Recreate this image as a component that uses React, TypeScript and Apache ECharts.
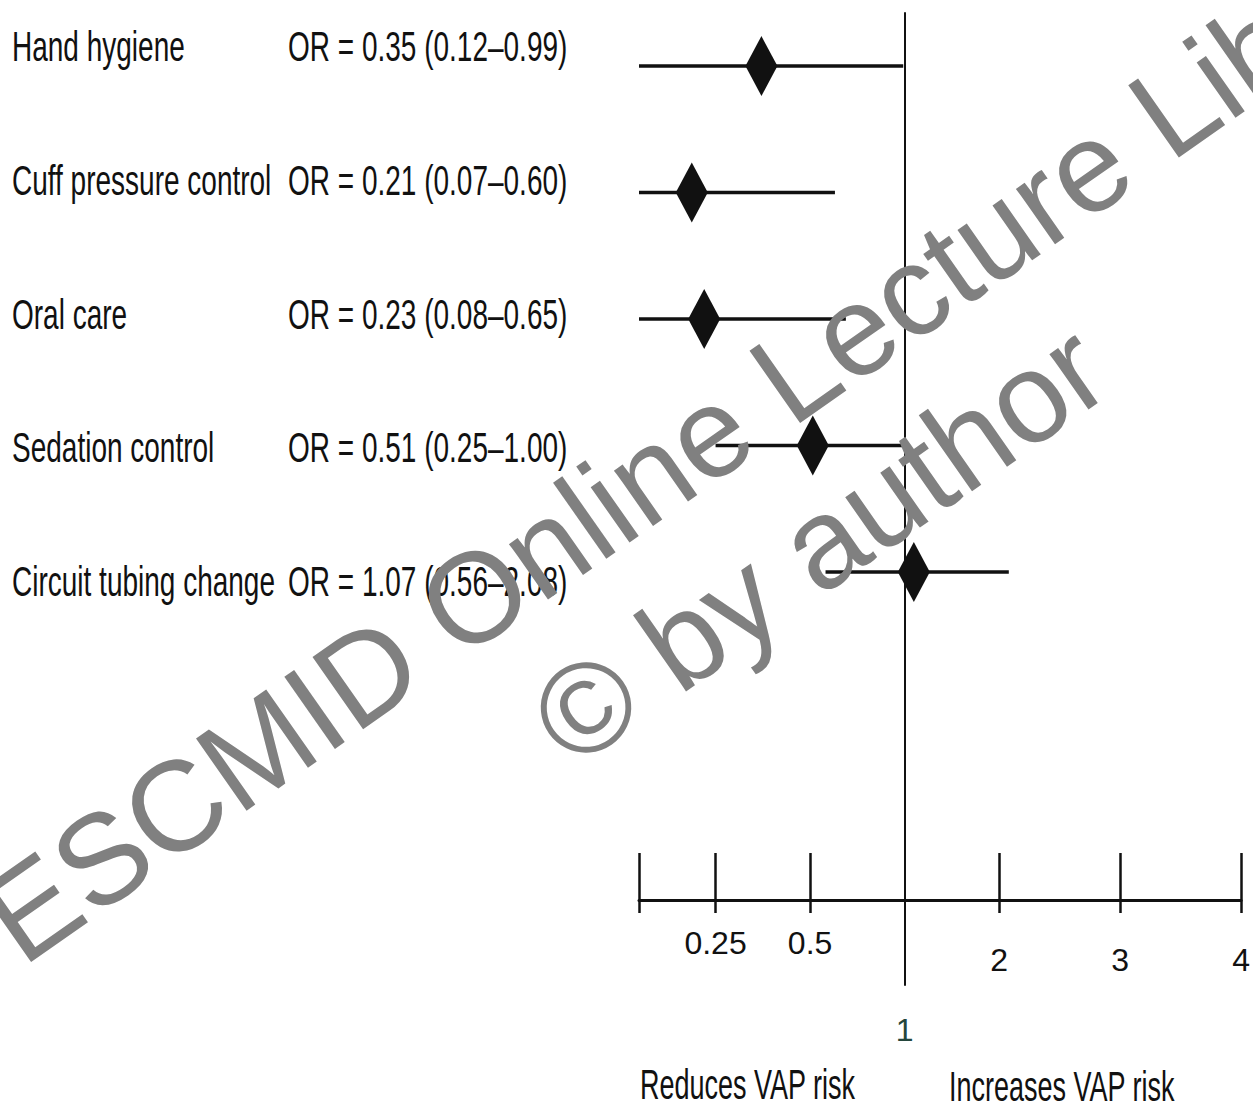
import React, { useEffect, useRef } from 'react';
import * as echarts from 'echarts';

// ---- data ----
const categories = ['Hand hygiene', 'Cuff pressure control', 'Oral care', 'Sedation control', 'Circuit tubing change'];
const oddsRatio = [0.35, 0.21, 0.23, 0.51, 1.07];
const ciLower = [0.12, 0.07, 0.08, 0.25, 0.56];
const ciUpper = [0.99, 0.6, 0.65, 1.0, 2.08];
const tickValues = [0.25, 0.5, 1, 2, 3, 4];
const tickLabels = ['0.25', '0.5', '1', '2', '3', '4'];
const sideLabels = ['Reduces VAP risk', 'Increases VAP risk'];
const watermark = ['ESCMID Online Lecture Library', '\u00A9 by author'];

// axis scale of the printed figure: log2 below 2, stretched linear above 2
const toAxis = (v: number) => (v <= 2 ? Math.log2(v) : 1 + (v - 2) * 1.28);

const X_MIN = -2.81;
const X_MAX = toAxis(4);
// rows (marks) axis and label-column axis
const Y_MIN = -0.42;
const Y_MAX = 7.265;
const YL_MIN = -0.254;
const YL_MAX = 7.013;

const FONT = "'Liberation Sans', Arial, sans-serif";
const INK = '#111111';

const fmt = (v: number) => v.toFixed(2);
const orText = (i: number) => `OR = ${fmt(oddsRatio[i])} (${fmt(ciLower[i])}\u2013${fmt(ciUpper[i])})`;

export default function App() {
  const ref = useRef<HTMLDivElement>(null);

  useEffect(() => {
    document.body.style.margin = '0';
    if (!ref.current) return;
    const chart = echarts.init(ref.current, undefined, { renderer: 'svg' });

    const tickPos = [X_MIN, ...tickValues.filter((v) => v !== 1).map(toAxis)];
    const labelPos = tickValues.map(toAxis);

    const labelFormatter = (val: number) => {
      let best = 0;
      let d = Infinity;
      tickValues.forEach((t, i) => {
        const dd = Math.abs(toAxis(t) - val);
        if (dd < d) {
          d = dd;
          best = i;
        }
      });
      const t = tickValues[best];
      const style = t < 1 ? 'lo' : t === 1 ? 'one' : 'hi';
      return `{${style}|${tickLabels[best]}}`;
    };

    const rot = (35 * Math.PI) / 180;

    const option: any = {
      animation: false,
      backgroundColor: '#ffffff',
      grid: { left: 639, right: 9, top: 13, bottom: 125, containLabel: false },
      xAxis: [
        {
          type: 'value',
          min: X_MIN,
          max: X_MAX,
          position: 'bottom',
          offset: -85,
          axisLine: { show: true, onZero: false, lineStyle: { color: INK, width: 3 } },
          axisTick: { show: true, inside: true, length: 47, customValues: tickPos, lineStyle: { color: INK, width: 2.5 } },
          axisLabel: {
            show: true,
            customValues: labelPos,
            margin: 27,
            formatter: labelFormatter,
            rich: {
              lo: { fontSize: 32, fontFamily: FONT, color: INK, padding: [0, 0, 0, 0] },
              hi: { fontSize: 32, fontFamily: FONT, color: INK, padding: [17, 0, 0, 0] },
              one: { fontSize: 32, fontFamily: FONT, color: '#24463c', padding: [87, 0, 0, 0] },
            },
          },
          splitLine: { show: false },
        },
        {
          type: 'value',
          min: X_MIN,
          max: X_MAX,
          position: 'bottom',
          offset: -85,
          axisLine: { show: false, onZero: false },
          axisTick: { show: true, inside: false, length: 13, customValues: tickPos, lineStyle: { color: INK, width: 2.5 } },
          axisLabel: { show: false },
          splitLine: { show: false },
        },
      ],
      yAxis: [
        {
          type: 'value',
          inverse: true,
          min: Y_MIN,
          max: Y_MAX,
          axisLine: { show: true, onZero: true, onZeroAxisIndex: 0, lineStyle: { color: INK, width: 2 } },
          axisTick: { show: false },
          axisLabel: { show: false },
          splitLine: { show: false },
        },
        {
          type: 'value',
          show: false,
          inverse: true,
          min: YL_MIN,
          max: YL_MAX,
          splitLine: { show: false },
        },
      ],
      series: [
        {
          type: 'custom',
          name: 'CI',
          xAxisIndex: 0,
          yAxisIndex: 0,
          clip: true,
          silent: true,
          data: categories.map((_, i) => [toAxis(ciLower[i]), toAxis(ciUpper[i]), i]),
          encode: { x: [0, 1], y: 2 },
          renderItem: (params: any, api: any) => {
            const a = api.coord([api.value(0), api.value(2)]);
            const b = api.coord([api.value(1), api.value(2)]);
            const left = params.coordSys.x;
            const right = params.coordSys.x + params.coordSys.width;
            return {
              type: 'line',
              shape: { x1: Math.max(a[0], left), y1: a[1], x2: Math.min(b[0], right), y2: b[1] },
              style: { stroke: INK, lineWidth: 3.5 },
            };
          },
          z: 2,
        },
        {
          type: 'scatter',
          name: 'OR',
          xAxisIndex: 0,
          yAxisIndex: 0,
          symbol: 'diamond',
          symbolSize: [32, 60],
          itemStyle: { color: INK, opacity: 1 },
          silent: true,
          data: oddsRatio.map((v, i) => [toAxis(v), i]),
          z: 3,
        },
        {
          type: 'custom',
          name: 'labels',
          xAxisIndex: 0,
          yAxisIndex: 1,
          clip: false,
          silent: true,
          data: categories.map((_, i) => [X_MIN, i]),
          renderItem: (params: any, api: any) => {
            const i = params.dataIndex;
            const p = api.coord([api.value(0), api.value(1)]);
            const y = p[1];
            const base = {
              fontSize: 28,
              fontFamily: FONT,
              fill: INK,
              align: 'left',
              textAlign: 'left',
              verticalAlign: 'middle',
              textVerticalAlign: 'middle',
            };
            return {
              type: 'group',
              children: [
                { type: 'text', x: p[0] - 627, y, scaleY: 1.5, style: { ...base, text: categories[i] } },
                { type: 'text', x: p[0] - 351, y, scaleY: 1.5, style: { ...base, text: orText(i) } },
              ],
            };
          },
          z: 4,
        },
      ],
      graphic: [
        {
          type: 'text',
          x: 640,
          y: 1084,
          scaleY: 1.55,
          style: { text: sideLabels[0], fontSize: 27, fontFamily: FONT, fill: INK, align: 'left', verticalAlign: 'middle' },
        },
        {
          type: 'text',
          x: 949,
          y: 1086,
          scaleY: 1.55,
          style: { text: sideLabels[1], fontSize: 27, fontFamily: FONT, fill: INK, align: 'left', verticalAlign: 'middle' },
        },
        {
          type: 'text',
          x: 731,
          y: 417,
          rotation: rot,
          z: 100,
          style: { text: watermark[0], fontSize: 128, fontFamily: FONT, fill: '#808080', align: 'center', verticalAlign: 'middle' },
        },
        {
          type: 'text',
          x: 819,
          y: 544,
          rotation: rot,
          z: 100,
          style: { text: watermark[1], fontSize: 128, fontFamily: FONT, fill: '#808080', align: 'center', verticalAlign: 'middle' },
        },
      ],
    };

    chart.setOption(option);
    return () => chart.dispose();
  }, []);

  return <div ref={ref} style={{ width: 1253, height: 1110 }} />;
}
